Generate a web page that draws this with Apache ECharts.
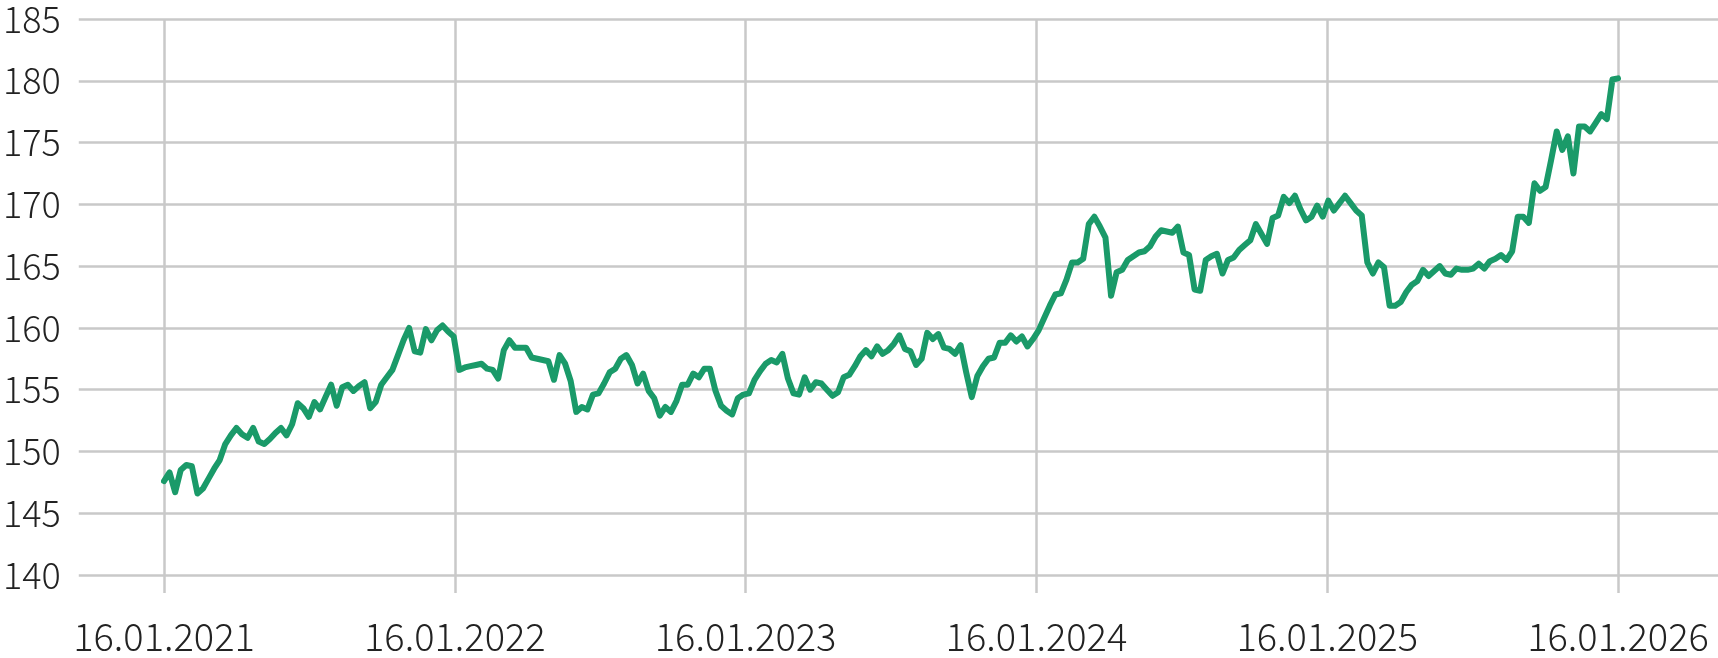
<!DOCTYPE html>
<html>
<head>
<meta charset="utf-8">
<script src="https://cdn.jsdelivr.net/npm/echarts@6/dist/echarts.min.js"></script>
<style>
html,body{margin:0;padding:0;background:#ffffff;}
#chart{width:1718px;height:658px;}
</style>
</head>
<body>
<div id="chart"></div>
<script>
// x-axis tick labels (one per year, 16 January)
const dateLabels = ['16.01.2021', '16.01.2022', '16.01.2023', '16.01.2024', '16.01.2025', '16.01.2026'];

// y-axis range
const yMin = 140;
const yMax = 185;
const yStep = 5;

// weekly values, 16.01.2021 ... 16.01.2026
const values = [
  147.6, 148.3, 146.7, 148.5, 148.9, 148.8, 146.6, 147.0, 147.8, 148.6,
  149.3, 150.6, 151.3, 151.9, 151.4, 151.1, 151.9, 150.8, 150.6, 151.0,
  151.5, 151.9, 151.3, 152.2, 153.9, 153.5, 152.8, 154.0, 153.4, 154.4,
  155.4, 153.7, 155.2, 155.4, 154.9, 155.3, 155.6, 153.5, 154.0, 155.4,
  156.0, 156.6, 157.8, 159.0, 160.0, 158.1, 158.0, 159.9, 159.0, 159.8,
  160.2, 159.7, 159.3, 156.6, 156.8, 156.9, 157.0, 157.1, 156.7, 156.6,
  155.9, 158.2, 159.0, 158.4, 158.4, 158.4, 157.6, 157.5, 157.4, 157.3,
  155.8, 157.8, 157.1, 155.7, 153.2, 153.6, 153.4, 154.6, 154.7, 155.5,
  156.4, 156.7, 157.5, 157.8, 157.0, 155.5, 156.3, 154.9, 154.3, 152.9,
  153.6, 153.2, 154.1, 155.4, 155.4, 156.3, 156.0, 156.7, 156.7, 154.9,
  153.7, 153.3, 153.0, 154.3, 154.6, 154.7, 155.8, 156.5, 157.1, 157.4,
  157.2, 157.9, 155.9, 154.7, 154.6, 156.0, 155.0, 155.6, 155.5, 155.0,
  154.5, 154.8, 156.0, 156.2, 156.9, 157.7, 158.2, 157.7, 158.5, 157.9,
  158.2, 158.7, 159.4, 158.3, 158.1, 157.0, 157.5, 159.6, 159.1, 159.5,
  158.4, 158.3, 157.9, 158.6, 156.4, 154.4, 156.1, 156.9, 157.5, 157.6,
  158.8, 158.8, 159.4, 158.9, 159.3, 158.5, 159.1, 159.8, 160.8, 161.8,
  162.7, 162.8, 163.9, 165.3, 165.3, 165.6, 168.4, 169.0, 168.2, 167.3,
  162.6, 164.5, 164.7, 165.5, 165.8, 166.1, 166.2, 166.6, 167.4, 167.9,
  167.8, 167.7, 168.2, 166.1, 165.9, 163.1, 163.0, 165.5, 165.8, 166.0,
  164.4, 165.5, 165.7, 166.3, 166.7, 167.1, 168.4, 167.6, 166.8, 168.9,
  169.1, 170.6, 170.1, 170.7, 169.6, 168.7, 169.0, 169.9, 169.0, 170.3,
  169.5, 170.1, 170.7, 170.1, 169.5, 169.1, 165.3, 164.4, 165.3, 164.9,
  161.8, 161.8, 162.1, 162.9, 163.5, 163.8, 164.7, 164.2, 164.6, 165.0,
  164.4, 164.3, 164.8, 164.7, 164.7, 164.8, 165.2, 164.8, 165.4, 165.6,
  165.9, 165.5, 166.2, 169.0, 169.0, 168.5, 171.7, 171.1, 171.4, 173.6,
  175.9, 174.4, 175.5, 172.5, 176.3, 176.3, 175.9, 176.6, 177.3, 176.9,
  180.1, 180.2
];

// position of each weekly point in years after 16.01.2021
const span = dateLabels.length - 1;
const seriesData = values.map((v, i) => [i * span / (values.length - 1), v]);

const gridColor = '#c9c9c9';
const textColor = '#222222';
const fontFamily = '"Noto Sans CJK SC", "Noto Sans", sans-serif';

const chart = echarts.init(document.getElementById('chart'), null, {renderer: 'canvas'});
chart.setOption({
  animation: false,
  backgroundColor: '#ffffff',
  grid: [
    {left: 76, right: 0, top: 19, bottom: 83},
    {left: 164, right: 100, top: 19, bottom: 83}
  ],
  xAxis: [
    {gridIndex: 0, type: 'value', min: 0, max: 1, show: false},
    {
      gridIndex: 1, type: 'value', min: 0, max: span, interval: 1,
      axisLine: {show: false},
      axisTick: {show: true, length: 18, lineStyle: {color: gridColor, width: 2.5}},
      splitLine: {show: true, lineStyle: {color: gridColor, width: 2.5}},
      axisLabel: {
        show: true, margin: 43, fontSize: 38, fontWeight: 300, color: textColor, fontFamily: fontFamily,
        showMinLabel: true, showMaxLabel: true,
        formatter: (v) => dateLabels[Math.round(v)] || ''
      }
    }
  ],
  yAxis: [
    {
      gridIndex: 0, type: 'value', min: yMin, max: yMax, interval: yStep,
      axisLine: {show: false}, axisTick: {show: false},
      splitLine: {show: true, lineStyle: {color: gridColor, width: 2.5}},
      axisLabel: {margin: 18, fontSize: 36, fontWeight: 300, color: textColor, fontFamily: fontFamily}
    },
    {gridIndex: 1, type: 'value', min: yMin, max: yMax, show: false}
  ],
  series: [{
    type: 'line',
    xAxisIndex: 1, yAxisIndex: 1,
    data: seriesData,
    showSymbol: false,
    symbol: 'none',
    lineStyle: {color: '#1a9a69', width: 6, join: 'round', cap: 'round'},
    silent: true
  }]
});
</script>
</body>
</html>
